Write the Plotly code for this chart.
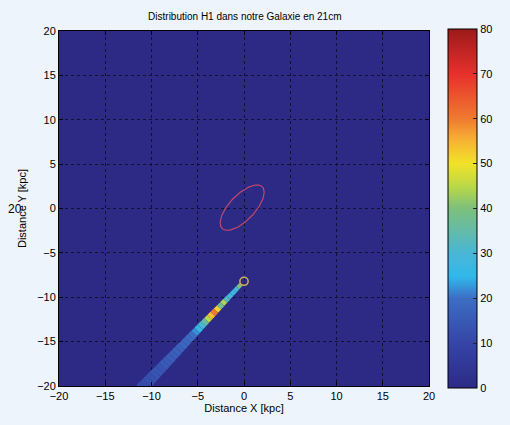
import numpy as np
import plotly.graph_objects as go
from plotly.colors import sample_colorscale

# HI 21 cm emission sampled along one line of sight from the Sun
sun_x, sun_y = 0.0, -8.2          # kpc
los_angle_deg = 227.5             # direction of the line of sight in the X-Y plane
los_dist = [0.5, 1.0, 1.5, 2.0, 2.5, 3.0, 3.5, 4.0, 4.5, 5.0, 5.5, 6.0,
            6.5, 7.0, 7.5, 8.0, 8.5, 9.0, 9.5, 10.0, 10.5, 11.0, 11.5, 12.0,
            12.5, 13.0, 13.5, 14.0, 14.5, 15.0, 15.5, 16.0, 16.5]
hi_intensity = [40, 30, 27, 28, 32, 44, 38, 52, 60, 54, 45, 36,
                30, 26, 22, 20, 19, 18, 18, 17, 17, 16, 16, 15,
                15, 14, 14, 14, 13, 13, 12, 12, 12]

# Galactic bar / central ellipse (kpc, degrees)
bar_center = (-0.2, 0.1)
bar_semi_axes = (3.2, 1.4)
bar_tilt_deg = 48

x_ticks = [-20, -15, -10, -5, 0, 5, 10, 15, 20]
y_ticks = [-20, -15, -10, -5, 0, 5, 10, 15, 20]
cbar_ticks = [0, 10, 20, 30, 40, 50, 60, 70, 80]

jet_like = [
    [0.0, "#2d2a86"], [0.125, "#3545a6"], [0.25, "#3d6ec4"],
    [0.31, "#30b8ea"], [0.375, "#4ab6d6"], [0.5, "#7cc07c"],
    [0.56, "#b8d848"], [0.625, "#f2e22a"], [0.69, "#f7b234"],
    [0.75, "#f07a30"], [0.875, "#e6302c"], [1.0, "#9c1a1a"],
]
cmin, cmax = 0, 80

theta = np.deg2rad(los_angle_deg)
d = np.array(los_dist)
vals = np.array(hi_intensity, dtype=float)
px = sun_x + d * np.cos(theta)
py = sun_y + d * np.sin(theta)

fig = go.Figure()

# line of sight drawn as short coloured segments, widening with distance
seg_colors = sample_colorscale(jet_like, list((vals - cmin) / (cmax - cmin)))
for i in range(len(d) - 1):
    w = 4 + 0.5 * d[i]
    fig.add_trace(go.Scatter(
        x=[px[i], px[i + 1]], y=[py[i], py[i + 1]], mode="lines",
        line=dict(color=seg_colors[i], width=w),
        hoverinfo="skip", showlegend=False,
    ))

# carrier of the colour axis (markers follow the same samples)
fig.add_trace(go.Scatter(
    x=px, y=py, mode="markers",
    marker=dict(color=vals, coloraxis="coloraxis", size=4 + 0.5 * d, opacity=0.0),
    hoverinfo="skip", showlegend=False,
))

t = np.linspace(0, 2 * np.pi, 200)
phi = np.deg2rad(bar_tilt_deg)
a, b = bar_semi_axes
ex = bar_center[0] + a * np.cos(t) * np.cos(phi) - b * np.sin(t) * np.sin(phi)
ey = bar_center[1] + a * np.cos(t) * np.sin(phi) + b * np.sin(t) * np.cos(phi)
fig.add_trace(go.Scatter(x=ex, y=ey, mode="lines",
                         line=dict(color="#c04868", width=1.2),
                         hoverinfo="skip", showlegend=False))

# Sun position
fig.add_shape(type="circle", xref="x", yref="y",
              x0=sun_x - 0.45, x1=sun_x + 0.45, y0=sun_y - 0.45, y1=sun_y + 0.45,
              line=dict(color="#d6b058", width=1.5))

font = dict(family="Liberation Sans, Arial", size=11, color="#000")

axis_common = dict(
    showgrid=True, gridcolor="#111133", griddash="dot", gridwidth=1,
    zeroline=False, ticks="inside", ticklen=4, tickcolor="black",
    showline=True, linecolor="black", linewidth=1, mirror="ticks",
    tickfont=font,
)

fig.update_layout(
    width=510, height=425,
    margin=dict(l=59, r=71, t=31, b=39),
    paper_bgcolor="#eef4fb", plot_bgcolor="#2d2a86",
    title=dict(text="Distribution H1 dans notre Galaxie en 21cm",
               x=0.48, xanchor="center", y=0.962, yanchor="middle",
               font=dict(family="Liberation Sans, Arial", size=10, color="#000")),
    xaxis=dict(range=[-20, 20], tickvals=x_ticks,
               title=dict(text="Distance X [kpc]", standoff=2, font=font),
               **axis_common),
    yaxis=dict(range=[-20, 20], tickvals=y_ticks,
               title=dict(text="Distance Y [kpc]", standoff=8, font=font),
               **axis_common),
    coloraxis=dict(
        colorscale=jet_like, cmin=cmin, cmax=cmax,
        colorbar=dict(x=1.0526, xanchor="left", y=0.5, yanchor="middle",
                      len=1.01, lenmode="fraction", thickness=29, thicknessmode="pixels",
                      outlinewidth=1, outlinecolor="black",
                      tickvals=cbar_ticks, ticks="inside", ticklen=4, tickcolor="#223",
                      tickfont=font, xpad=0, ypad=0),
    ),
)

fig.add_annotation(text="20", xref="paper", yref="paper", x=-0.12, y=0.5,
                   xanchor="center", yanchor="middle", showarrow=False,
                   font=dict(family="Liberation Sans, Arial", size=12, color="#000"))

fig.write_html("out.html")
